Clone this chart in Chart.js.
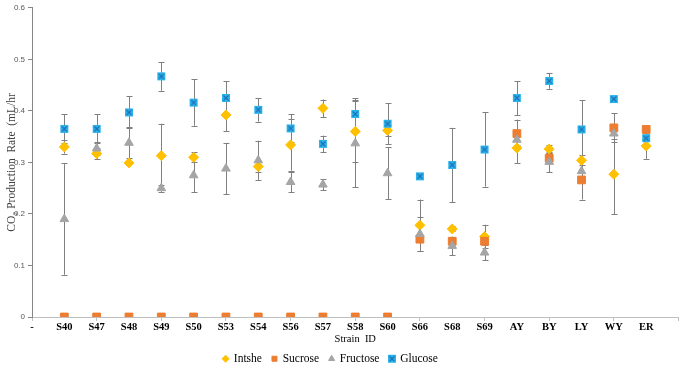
<!DOCTYPE html>
<html>
<head>
<meta charset="utf-8">
<script src="https://cdn.jsdelivr.net/npm/chart.js@4"></script>
<style>
  html, body { margin: 0; padding: 0; background: #fff; }
  #wrap { width: 685px; height: 370px; }
</style>
</head>
<body>
<div id="wrap"><canvas id="chart"></canvas></div>
<script>
const strains = ['S40','S47','S48','S49','S50','S53','S54','S56','S57','S58','S60','S66','S68','S69','AY','BY','LY','WY','ER'];

const intshe      = [0.330,0.317,0.299,0.313,0.310,0.392,0.292,0.334,0.405,0.360,0.362,0.178,0.171,0.156,0.328,0.326,0.304,0.277,0.332];
const intsheErr   = [0.013,0.010,0,0.062,0.010,0.032,0.010,0.050,0.017,0.060,0.010,0.050,0.005,0.023,0.030,0.007,0.010,0.077,0.025];
const sucrose     = [0,0,0,0,0,0,0,0,0,0,0,0.151,0.147,0.147,0.356,0.308,0.266,0.367,0.364];
const sucroseErr  = [0,0,0,0,0,0,0,0,0,0,0,0.005,0.005,0.005,0.027,0.010,0.038,0.028,0];
const fructose    = [0.190,0.327,0.338,0.250,0.275,0.288,0.304,0.262,0.257,0.337,0.279,0.161,0.138,0.125,0.344,0.301,0.283,0.356,null];
const fructoseErr = [0.108,0.012,0.030,0.007,0.033,0.050,0.038,0.020,0.011,0.085,0.050,0.033,0.018,0.015,0.010,0.020,0.020,0.010,0];
const glucose     = [0.365,0.365,0.397,0.467,0.416,0.425,0.402,0.366,0.336,0.394,0.375,0.273,0.295,0.325,0.425,0.458,0.364,0.423,0.347];
const glucoseErr  = [0.028,0.028,0.031,0.028,0.045,0.032,0.023,0.027,0.016,0.030,0.040,0,0.072,0.072,0.033,0.015,0.057,0,0];

const yTicks = [0, 0.1, 0.2, 0.3, 0.4, 0.5, 0.6];

// glucose marker: blue square with an x in it
function glucoseMarker() {
    const c = document.createElement('canvas');
    c.width = 10; c.height = 10;
    const g = c.getContext('2d');
    g.fillStyle = '#2AB4EA';
    g.fillRect(1, 1, 8, 8);
    g.strokeStyle = '#1E6FB8';
    g.lineWidth = 1.2;
    g.beginPath();
    g.moveTo(2.5, 2.5); g.lineTo(7.5, 7.5);
    g.moveTo(7.5, 2.5); g.lineTo(2.5, 7.5);
    g.stroke();
    return c;
}

function toPoints(vals) {
    return vals.map((v, i) => ({ x: i + 1, y: v }));
}

const errorBars = {
    id: 'errorBars',
    beforeDatasetsDraw(chart) {
        const ctx = chart.ctx;
        const xs = chart.scales.x, ys = chart.scales.y;
        ctx.save();
        ctx.strokeStyle = '#808080';
        ctx.lineWidth = 1;
        chart.data.datasets.forEach(ds => {
            ds.errors.forEach((e, i) => {
                const v = ds.values[i];
                if (!e || v === null) return;
                const x = Math.round(xs.getPixelForValue(i + 1)) + 0.5;
                const y1 = ys.getPixelForValue(v + e);
                const y2 = ys.getPixelForValue(v - e);
                ctx.beginPath();
                ctx.moveTo(x, y1); ctx.lineTo(x, y2);
                ctx.moveTo(x - 3, Math.round(y1) + 0.5); ctx.lineTo(x + 3, Math.round(y1) + 0.5);
                ctx.moveTo(x - 3, Math.round(y2) + 0.5); ctx.lineTo(x + 3, Math.round(y2) + 0.5);
                ctx.stroke();
            });
        });
        ctx.restore();
    }
};

// legend in the original sits a little left of centre and tight under the axis title
const legendShift = {
    id: 'legendShift',
    afterLayout(chart) {
        chart.legend.left -= 11;
        chart.legend.right -= 11;
        chart.legend.top -= 3;
    }
};

const serif = 'Liberation Serif';

new Chart(document.getElementById('chart'), {
    type: 'scatter',
    data: {
        datasets: [
            { label: 'Intshe', data: toPoints(intshe), values: intshe, errors: intsheErr,
              pointStyle: 'rectRot', pointRadius: 5, backgroundColor: '#FFC000', borderColor: '#FFC000', borderWidth: 1, order: 4 },
            { label: 'Sucrose', data: toPoints(sucrose), values: sucrose, errors: sucroseErr,
              pointStyle: 'rect', pointRadius: 5.5, backgroundColor: '#ED7D31', borderColor: '#ED7D31', borderWidth: 1, order: 3 },
            { label: 'Fructose', data: toPoints(fructose), values: fructose, errors: fructoseErr,
              pointStyle: 'triangle', pointRadius: 5, backgroundColor: '#A5A5A5', borderColor: '#A5A5A5', borderWidth: 1, order: 2 },
            { label: 'Glucose', data: toPoints(glucose), values: glucose, errors: glucoseErr,
              pointStyle: glucoseMarker(), backgroundColor: '#2AB4EA', borderColor: '#2AB4EA', order: 1 }
        ]
    },
    options: {
        responsive: true,
        maintainAspectRatio: false,
        animation: false,
        layout: { padding: { top: 0, right: 2, left: 0, bottom: 0 } },
        plugins: {
            tooltip: { enabled: false },
            legend: {
                position: 'bottom',
                maxHeight: 24,
                labels: {
                    usePointStyle: true,
                    boxWidth: 5,
                    boxHeight: 5,
                    padding: 10,
                    color: '#000',
                    font: { family: serif, size: 11.5 },
                    sort: (a, b) => a.datasetIndex - b.datasetIndex
                }
            }
        },
        scales: {
            x: {
                type: 'linear',
                min: 0,
                max: 20,
                afterBuildTicks: s => { s.ticks = Array.from({ length: 21 }, (_, i) => ({ value: i })); },
                afterFit: s => { s.height = 29; },
                border: { color: '#BFBFBF' },
                grid: {
                    drawOnChartArea: false,
                    tickLength: 4,
                    color: c => (c.tick && c.tick.value % 2 === 0) ? '#BFBFBF' : 'rgba(0,0,0,0)'
                },
                ticks: {
                    autoSkip: false,
                    maxRotation: 0,
                    padding: 0,
                    color: '#000',
                    font: { family: serif, size: 10.5, weight: 'bold' },
                    callback: v => v === 0 ? '-' : (strains[v - 1] || '')
                },
                title: {
                    display: true,
                    text: 'Strain  ID',
                    color: '#000',
                    padding: { top: 0, bottom: 0 },
                    font: { family: serif, size: 10.5 }
                }
            },
            y: {
                min: 0,
                max: 0.6,
                afterBuildTicks: s => { s.ticks = yTicks.map(v => ({ value: v })); },
                afterFit: s => { s.width = 32; },
                border: { color: '#868686' },
                grid: { drawOnChartArea: false, tickLength: 4, color: '#868686' },
                ticks: {
                    padding: 3,
                    color: '#595959',
                    font: { family: 'Liberation Sans', size: 8 },
                    callback: v => String(Math.round(v * 10) / 10)
                },
                title: {
                    display: true,
                    text: 'CO\u2082 Production  Rate  (mL/hr',
                    color: '#404040',
                    padding: { top: 5, bottom: 0 },
                    font: { family: serif, size: 11.5 }
                }
            }
        }
    },
    plugins: [errorBars, legendShift]
});
</script>
</body>
</html>
